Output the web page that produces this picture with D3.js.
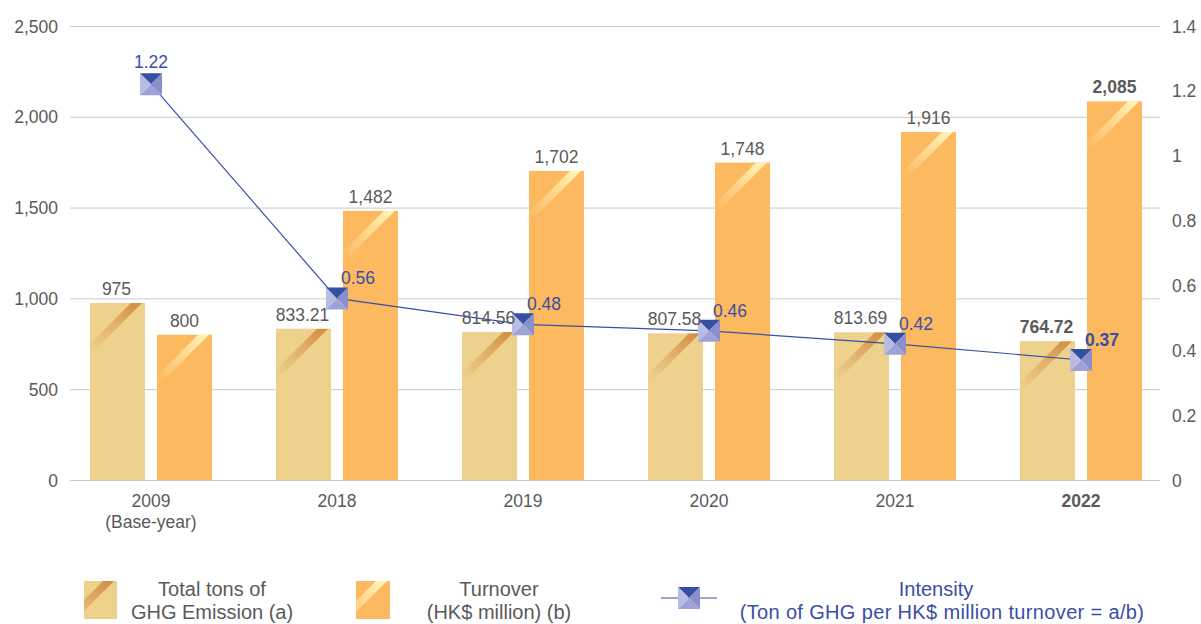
<!DOCTYPE html>
<html lang="en">
<head>
<meta charset="UTF-8">
<title>GHG Emission, Turnover and Intensity</title>
<style>
  body { margin: 0; background: #fff; }
  text { font-family: "Liberation Sans", Arial, sans-serif; }
  .grid line { stroke: #c9c9c9; }
</style>
<script src="https://cdn.jsdelivr.net/npm/d3@7"></script>
</head>
<body>
<script>
// data
var years = ["2009", "2018", "2019", "2020", "2021", "2022"];
var yearNotes = ["(Base-year)", "", "", "", "", ""];
var emission = [975, 833.21, 814.56, 807.58, 813.69, 764.72];
var turnover = [800, 1482, 1702, 1748, 1916, 2085];
var intensity = [1.22, 0.56, 0.48, 0.46, 0.42, 0.37];
var leftTicks = [0, 500, 1000, 1500, 2000, 2500];
var rightTicks = [0, 0.2, 0.4, 0.6, 0.8, 1, 1.2, 1.4];

var W = 1201, H = 624;
var plotTop = 26, plotBottom = 480, gridL = 70, gridR = 1160;
var barW = 55, gap = 12;
var fs = 17.5;

var svg = d3.select("body").append("svg").attr("width", W).attr("height", H);
var defs = svg.append("defs");

var x = d3.scaleBand().domain(years).range([58, 1174]);
var yL = d3.scaleLinear().domain([0, 2500]).range([plotBottom, plotTop]);
var yR = d3.scaleLinear().domain([0, 1.4]).range([plotBottom, plotTop]);

var grayTxt = "#5a5a5a", blueTxt = "#3a4ea6";
var colEm = "#efd18e", colTo = "#fdb960";

// gradients for the shine streaks
function streakGrad(id, c, a) {
  var g = defs.append("linearGradient").attr("id", id)
    .attr("x1", 1).attr("y1", 0).attr("x2", 0).attr("y2", 1);
  g.append("stop").attr("offset", 0).attr("stop-color", c).attr("stop-opacity", a);
  g.append("stop").attr("offset", 0.4).attr("stop-color", c).attr("stop-opacity", a * 0.5);
  g.append("stop").attr("offset", 0.9).attr("stop-color", c).attr("stop-opacity", 0);
}
streakGrad("gEm", "#d0883c", 0.95);
streakGrad("gTo", "#fff6bc", 1);

// grid + axes
var grid = svg.append("g").attr("class", "grid");
grid.selectAll("line").data(leftTicks).enter().append("line")
  .attr("x1", gridL).attr("x2", gridR)
  .attr("y1", function(d) { return yL(d) + 0.5; })
  .attr("y2", function(d) { return yL(d) + 0.5; });

var axL = d3.axisLeft(yL).tickValues(leftTicks).tickSize(0).tickPadding(0).tickFormat(d3.format(","));
var gL = svg.append("g").attr("transform", "translate(58,0)").call(axL);
gL.select(".domain").remove();
gL.selectAll("text").attr("font-size", fs).attr("fill", grayTxt).attr("font-family", null).attr("dy", "0.35em");

var axR = d3.axisRight(yR).tickValues(rightTicks).tickSize(0).tickPadding(0)
  .tickFormat(function(d) { return d3.format("")(+d.toFixed(1)); });
var gR = svg.append("g").attr("transform", "translate(1172,0)").call(axR);
gR.select(".domain").remove();
gR.selectAll("text").attr("font-size", fs).attr("fill", grayTxt).attr("font-family", null).attr("dy", "0.35em");
svg.selectAll(".tick line").remove();

// bars with shine
function drawBar(g, bx, by, bw, bh, fill, grad, id) {
  defs.append("clipPath").attr("id", id).append("rect")
    .attr("x", bx).attr("y", by).attr("width", bw).attr("height", bh);
  g.append("rect").attr("x", bx).attr("y", by).attr("width", bw).attr("height", bh).attr("fill", fill);
  var sh = 50;
  var pts = [[bx + bw - 14, by], [bx + bw - 3, by], [bx + bw - 3 - sh, by + sh], [bx + bw - 14 - sh, by + sh]];
  g.append("polygon").attr("points", pts.map(function(p) { return p.join(","); }).join(" "))
    .attr("fill", "url(#" + grad + ")").attr("clip-path", "url(#" + id + ")");
}

var bars = svg.append("g");
years.forEach(function(yr, i) {
  var c = x(yr) + x.bandwidth() / 2;
  drawBar(bars, c - gap / 2 - barW, yL(emission[i]), barW, plotBottom - yL(emission[i]), colEm, "gEm", "ce" + i);
  drawBar(bars, c + gap / 2, yL(turnover[i]), barW, plotBottom - yL(turnover[i]), colTo, "gTo", "ct" + i);
});

// category labels
var cats = svg.append("g").attr("font-size", fs).attr("text-anchor", "middle").attr("fill", grayTxt);
years.forEach(function(yr, i) {
  var c = x(yr) + x.bandwidth() / 2;
  cats.append("text").attr("x", c).attr("y", 507).attr("font-weight", i === years.length - 1 ? "bold" : null).text(yr);
  if (yearNotes[i]) cats.append("text").attr("x", c).attr("y", 528).text(yearNotes[i]);
});

// intensity line
var line = d3.line()
  .x(function(d, i) { return x(years[i]) + x.bandwidth() / 2; })
  .y(function(d) { return yR(d); });
svg.append("path").datum(intensity).attr("d", line)
  .attr("fill", "none").attr("stroke", "#3a4ea6").attr("stroke-width", 1.2);

function marker(g, cx, cy, s) {
  var h = s / 2;
  var tl = [cx - h, cy - h], tr = [cx + h, cy - h], br = [cx + h, cy + h], bl = [cx - h, cy + h], m = [cx, cy];
  var tri = [[tl, tr, "#3550a2"], [tr, br, "#8a8fcb"], [br, bl, "#9ea2d6"], [bl, tl, "#b8bbe3"]];
  tri.forEach(function(t) {
    g.append("polygon").attr("points", [t[0], t[1], m].map(function(p) { return p.join(","); }).join(" "))
      .attr("fill", t[2]);
  });
}
var mk = svg.append("g");
intensity.forEach(function(v, i) {
  var cx = x(years[i]) + x.bandwidth() / 2, cy = yR(v);
  marker(mk, cx, cy, 22);
  var last = i === years.length - 1;
  var t = mk.append("text").attr("font-size", fs).attr("fill", blueTxt)
    .attr("font-weight", last ? "bold" : null).text(v.toFixed(2));
  if (i === 0) t.attr("x", cx).attr("y", cy - 16).attr("text-anchor", "middle");
  else t.attr("x", cx + 4).attr("y", cy - 14);
});

// bar value labels (on top of markers)
var fmt = d3.format(",");
var labels = svg.append("g").attr("font-size", fs).attr("text-anchor", "middle").attr("fill", grayTxt);
years.forEach(function(yr, i) {
  var c = x(yr) + x.bandwidth() / 2;
  var last = i === years.length - 1;
  labels.append("text").attr("x", c - gap / 2 - barW / 2 - 1).attr("y", yL(emission[i]) - 8)
    .attr("font-weight", last ? "bold" : null).text(fmt(emission[i]));
  labels.append("text").attr("x", c + gap / 2 + barW / 2).attr("y", yL(turnover[i]) - 8)
    .attr("font-weight", last ? "bold" : null).text(fmt(turnover[i]));
});

// legend
var lg = svg.append("g").attr("font-size", 20).attr("fill", grayTxt).attr("text-anchor", "middle");
drawBar(lg, 84, 581, 33, 38, colEm, "gEm", "lce");
drawBar(lg, 356, 581, 34, 38, colTo, "gTo", "lct");
lg.append("text").attr("x", 212).attr("y", 596).text("Total tons of");
lg.append("text").attr("x", 212).attr("y", 619).text("GHG Emission (a)");
lg.append("text").attr("x", 499).attr("y", 596).text("Turnover");
lg.append("text").attr("x", 499).attr("y", 619).text("(HK$ million) (b)");
lg.append("line").attr("x1", 661).attr("x2", 717).attr("y1", 598).attr("y2", 598)
  .attr("stroke", "#3a4ea6").attr("stroke-width", 1.2);
marker(lg, 689, 598, 22);
lg.append("text").attr("x", 936).attr("y", 596).attr("fill", blueTxt).text("Intensity");
lg.append("text").attr("x", 942).attr("y", 619).attr("fill", blueTxt).attr("letter-spacing", 0.35)
  .text("(Ton of GHG per HK$ million turnover = a/b)");
</script>
</body>
</html>
